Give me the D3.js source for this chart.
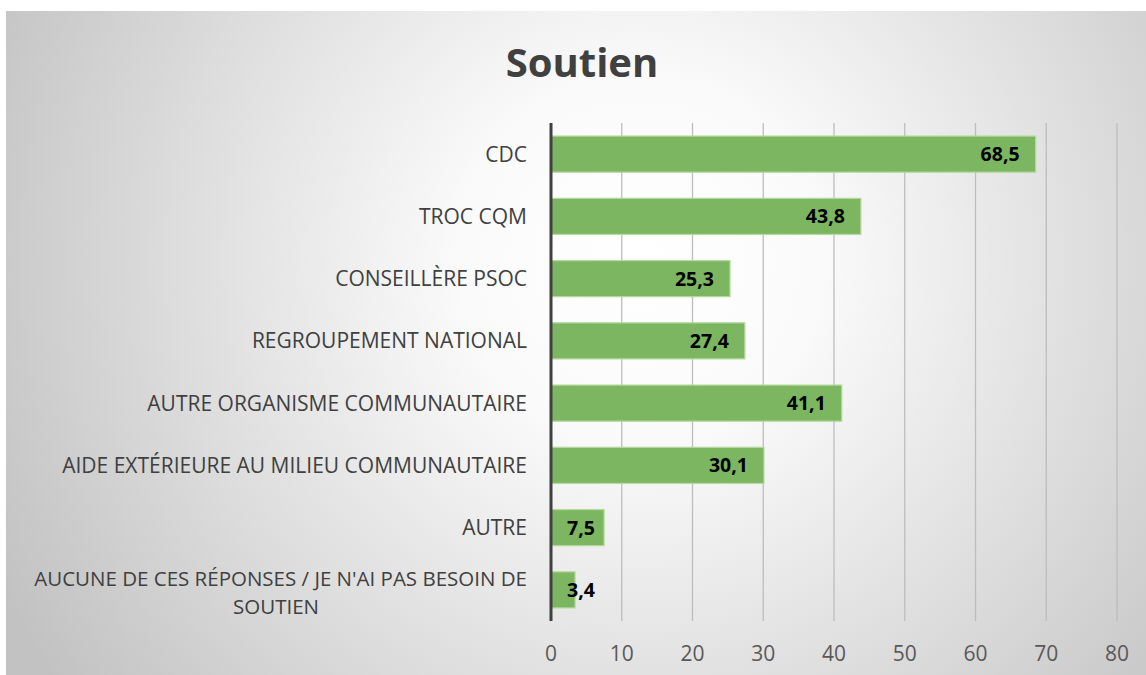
<!DOCTYPE html>
<html>
<head>
<meta charset="utf-8">
<script src="https://cdn.jsdelivr.net/npm/d3@7"></script>
<style>
  body { margin: 0; background: #fff; }
  svg { display: block; }
</style>
</head>
<body>
<div class="chart"></div>
<script>
// chart data
var categories = [
    "CDC",
    "TROC CQM",
    "CONSEILLÈRE PSOC",
    "REGROUPEMENT NATIONAL",
    "AUTRE ORGANISME COMMUNAUTAIRE",
    "AIDE EXTÉRIEURE AU MILIEU COMMUNAUTAIRE",
    "AUTRE",
    "AUCUNE DE CES RÉPONSES / JE N'AI PAS BESOIN DE SOUTIEN"
];
var values = [68.5, 43.8, 25.3, 27.4, 41.1, 30.1, 7.5, 3.4];
var xTicks = [0, 10, 20, 30, 40, 50, 60, 70, 80];
var title = "Soutien";

var W = 1146, H = 675;
var font = "'Open Sans', sans-serif";

var svg = d3.select(".chart").append("svg")
    .attr("width", W)
    .attr("height", H);

var defs = svg.append("defs");
var grad = defs.append("radialGradient")
    .attr("id", "bg")
    .attr("gradientUnits", "userSpaceOnUse")
    .attr("cx", 640).attr("cy", 260).attr("r", 720);
grad.append("stop").attr("offset", "0").attr("stop-color", "#ffffff");
grad.append("stop").attr("offset", "0.25").attr("stop-color", "#fafafa");
grad.append("stop").attr("offset", "1").attr("stop-color", "#c2c2c2");

svg.append("rect")
    .attr("x", 6).attr("y", 11)
    .attr("width", W - 6).attr("height", H - 11)
    .attr("fill", "url(#bg)");

var x = d3.scaleLinear().domain([0, 80]).range([551, 1117]);
var y = d3.scaleBand().domain(categories).range([123, 621]).paddingInner(0.42).paddingOuter(0.21);

// gridlines
svg.append("g").selectAll("line").data(xTicks.slice(1)).enter().append("line")
    .attr("x1", function(d) { return x(d); })
    .attr("x2", function(d) { return x(d); })
    .attr("y1", 123).attr("y2", 621)
    .attr("stroke", "#bdbdbd")
    .attr("stroke-width", 1.3);

// title
svg.append("text")
    .attr("x", 582).attr("y", 77)
    .attr("text-anchor", "middle")
    .attr("font-family", font)
    .attr("font-weight", "bold")
    .attr("font-size", 40)
    .attr("fill", "#404040")
    .text(title);

// bars
var bars = svg.append("g").selectAll("g").data(values).enter().append("g");
bars.append("rect")
    .attr("x", x(0))
    .attr("y", function(d, i) { return y(categories[i]); })
    .attr("width", function(d) { return x(d) - x(0); })
    .attr("height", y.bandwidth())
    .attr("fill", "#7db660")
    .attr("stroke", "#b5d99e")
    .attr("stroke-width", 1.2);

// value labels: inside end, but never left of x0 + pad
var pad = 16;
bars.append("text")
    .attr("y", function(d, i) { return y(categories[i]) + y.bandwidth() / 2; })
    .attr("dy", "0.36em")
    .attr("font-family", font)
    .attr("font-weight", "bold")
    .attr("font-size", 19.5)
    .attr("fill", "#000")
    .text(function(d) { return d.toFixed(1).replace(".", ","); })
    .each(function(d) {
        var w = this.getComputedTextLength();
        var right = Math.max(x(d) - pad, x(0) + pad + w);
        d3.select(this).attr("x", right).attr("text-anchor", "end");
    });

// category axis line
svg.append("line")
    .attr("x1", x(0)).attr("x2", x(0))
    .attr("y1", 123).attr("y2", 621)
    .attr("stroke", "#404040")
    .attr("stroke-width", 3);

// category labels (wrap long one)
var labels = svg.append("g").selectAll("text").data(categories).enter().append("text")
    .attr("font-family", font)
    .attr("font-size", 21)
    .attr("fill", "#404040")
    .attr("text-anchor", "end")
    .attr("x", 527)
    .attr("y", function(d) { return y(d) + y.bandwidth() / 2; });

labels.each(function(d) {
    var t = d3.select(this);
    if (d.length > 45) {
        var cut = d.lastIndexOf(" DE ");
        var l1 = d.slice(0, cut + 3), l2 = d.slice(cut + 4);
        t.attr("font-size", 20.5);
        t.append("tspan").attr("x", 527).attr("dy", -4).text(l1);
        t.append("tspan").attr("x", 276).attr("text-anchor", "middle").attr("dy", 28.5).text(l2);
    } else {
        t.attr("dy", "0.36em").text(d);
    }
});

// x axis tick labels
svg.append("g").selectAll("text").data(xTicks).enter().append("text")
    .attr("x", function(d) { return x(d); })
    .attr("y", 661)
    .attr("text-anchor", "middle")
    .attr("font-family", font)
    .attr("font-size", 21)
    .attr("fill", "#595959")
    .text(function(d) { return d; });
</script>
</body>
</html>
